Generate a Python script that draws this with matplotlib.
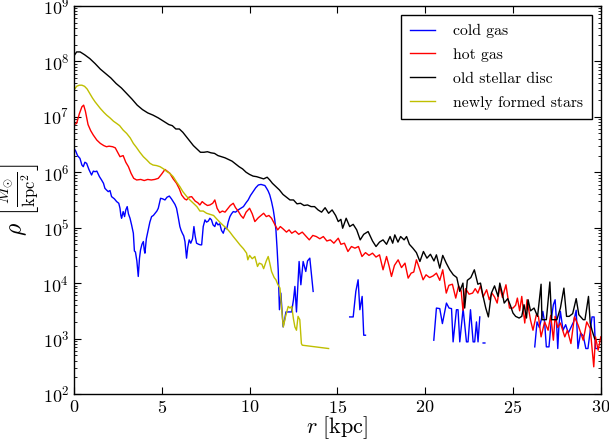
import numpy as np
import matplotlib
matplotlib.use('Agg')
from matplotlib import pyplot as plt

plt.rcParams['font.family'] = 'serif'
plt.rcParams['font.serif'] = ['cmr10']
plt.rcParams['mathtext.fontset'] = 'cm'
plt.rcParams['axes.formatter.use_mathtext'] = True
plt.rcParams['axes.unicode_minus'] = False

nan = np.nan

# surface density profiles, radius in kpc, density as log10(M_sun / kpc^2)
r_cold = [0.0, 0.1, 0.2, 0.34, 0.45, 0.53, 0.62, 0.72, 0.85, 1.0, 1.1, 1.2, 1.3, 1.45, 1.57, 1.68,
          1.76, 1.85, 1.95, 2.05, 2.14, 2.3, 2.43, 2.55, 2.62, 2.67, 2.71, 2.8, 2.88, 2.95, 3.03,
          3.1, 3.19, 3.28, 3.38, 3.44, 3.5, 3.58, 3.66, 3.73, 3.79, 3.87, 3.95, 4.0, 4.04, 4.12,
          4.23, 4.32, 4.42, 4.52, 4.62, 4.72, 4.8, 4.88, 4.93, 5.05, 5.18, 5.3, 5.43, 5.55, 5.65,
          5.75, 5.84, 5.93, 6.03, 6.1, 6.17, 6.25, 6.32, 6.38, 6.41, 6.48, 6.56, 6.65, 6.75, 6.83,
          6.9, 6.98, 7.1, 7.2, 7.27, 7.36, 7.46, 7.55, 7.65, 7.74, 7.83, 7.92, 8.02, 8.1, 8.2, 8.3,
          8.4, 8.5, 8.6, 8.7, 8.78, 8.88, 8.97, 9.07, 9.2, 9.35, 9.5, 9.65, 9.8, 9.92, 10.05, 10.2,
          10.35, 10.5, 10.65, 10.77, 10.87, 10.97, 11.06, 11.15, 11.25, 11.35, 11.43, 11.5, 11.57,
          11.63, 11.7, 11.75, 11.78, 11.85, 11.91, 12.0, 12.07, 12.39, 12.5, 12.58, 12.67, 12.82,
          12.92, 13.05, 13.2, 13.3, 13.43, 13.62, 14.5,
          15.7, 15.9, 16.05, 16.18, 16.28, 16.41, 16.5, 16.6, 18.0,
          20.49, 20.64, 20.83, 20.98, 21.21, 21.36, 21.5, 21.59, 21.78, 21.87, 21.97, 22.16, 22.35,
          22.44, 22.58, 22.73, 22.82, 22.92, 23.01, 23.11, 23.2, 23.3, 23.4, 24.0,
          26.24, 26.37, 26.5, 26.62, 26.7, 26.8, 26.9, 27.05, 27.2, 27.3, 27.4, 27.48, 27.55, 27.62,
          27.7, 27.85, 28.0, 28.15, 28.3, 28.45, 28.6, 28.7, 28.85, 29.0, 29.15, 29.27, 29.5, 29.62,
          29.7, 29.8]
rho_cold = [6.43, 6.38, 6.30, 6.25, 6.13, 6.10, 6.18, 6.16, 6.05, 5.95, 6.02, 6.01, 6.02, 5.92, 5.86, 5.80,
            5.71, 5.68, 5.65, 5.67, 5.56, 5.52, 5.47, 5.44, 5.35, 5.22, 5.17, 5.29, 5.20, 5.32, 5.38,
            5.25, 5.17, 5.05, 4.90, 4.58, 4.56, 4.40, 4.12, 4.45, 4.60, 4.70, 4.75, 4.60, 4.54, 4.80,
            4.96, 5.10, 5.20, 5.22, 5.26, 5.30, 5.35, 5.46, 5.53, 5.52, 5.50, 5.55, 5.57, 5.52, 5.47,
            5.42, 5.35, 5.20, 5.02, 4.95, 4.90, 4.85, 4.75, 4.55, 4.45, 4.65, 4.78, 4.72, 4.80, 5.02,
            4.85, 4.72, 4.70, 4.69, 4.69, 5.02, 5.14, 5.10, 5.12, 5.17, 5.14, 5.05, 5.02, 5.10, 5.05, 5.07,
            4.95, 4.90, 5.00, 4.98, 5.10, 5.20, 5.25, 5.29, 5.28, 5.32, 5.35, 5.38, 5.45, 5.50, 5.58, 5.65,
            5.72, 5.77, 5.78, 5.77, 5.76, 5.71, 5.66, 5.59, 5.47, 5.32, 5.15, 4.96, 4.60,
            4.24, 3.52, 3.70, 3.82, 3.50, 3.21, 3.35, 3.48, 3.48, 3.70, 3.94, 3.48, 4.39,
            3.97, 4.39, 4.21, 4.40, 4.45, 3.85, nan,
            3.39, 3.39, 3.85, 4.06, 3.52, 3.76, 3.06, 3.06, nan,
            2.97, 3.55, 3.54, 3.27, 3.64, 3.55, 3.54, 2.94, 3.52, 3.52, 2.94, 3.54, 2.94,
            2.94, 3.52, 2.94, 2.94, 3.30, 2.94, 3.39, nan, 2.92, 2.92, nan,
            2.85, 3.30, 3.20, 3.35, 3.49, 3.30, 2.85, 2.85, 3.39, 3.61, 3.70, 3.30, 2.82, 3.25,
            3.49, 3.15, 3.25, 3.10, 3.20, 3.30, 3.51, 2.82, 3.10, 3.05, 2.82, 2.82, 3.39, 3.39,
            2.82, 2.82]

r_hot = [0.0, 0.15, 0.3, 0.45, 0.55, 0.65, 0.8, 0.95, 1.1, 1.3, 1.5, 1.7, 1.85, 2.0, 2.2, 2.35, 2.5,
         2.62, 2.8, 2.95, 3.1, 3.25, 3.4, 3.57, 3.8, 4.0, 4.2, 4.4, 4.6, 4.8, 5.0, 5.18, 5.3, 5.46,
         5.65, 5.84, 6.0, 6.13, 6.3, 6.41, 6.55, 6.7, 6.9, 7.05, 7.17, 7.3, 7.45, 7.6, 7.74, 7.9,
         8.02, 8.15, 8.3, 8.45, 8.6, 8.75, 8.9, 9.07, 9.2, 9.35, 9.5, 9.64, 9.8, 10.0, 10.15, 10.3,
         10.5, 10.65, 10.8, 10.95, 11.1, 11.25, 11.4, 11.6, 11.75, 11.9, 12.1, 12.25, 12.4, 12.6,
         12.8, 13.0, 13.2, 13.4, 13.6, 13.8, 14.0, 14.2, 14.4, 14.6, 14.8, 15.05, 15.2, 15.4, 15.6,
         15.8, 16.0, 16.2, 16.4, 16.6, 16.8, 17.0, 17.2, 17.4, 17.6, 17.8, 17.95, 18.08, 18.25,
         18.46, 18.65, 18.85, 19.03, 19.2, 19.35, 19.5, 19.7, 19.88, 20.05, 20.25, 20.45, 20.64,
         20.83, 21.0, 21.2, 21.35, 21.55, 21.74, 21.9, 22.05, 22.15, 22.3, 22.5, 22.7, 22.85, 23.0,
         23.15, 23.3, 23.5, 23.65, 23.8, 23.95, 24.1, 24.25, 24.4, 24.6, 24.8, 25.0, 25.15, 25.25,
         25.38, 25.5, 25.67, 25.8, 26.0, 26.14, 26.33, 26.45, 26.6, 26.8, 27.0, 27.15, 27.3, 27.4,
         27.55, 27.7, 27.95, 28.1, 28.3, 28.5, 28.7, 29.0, 29.2, 29.4, 29.6, 29.7, 29.85, 30.0]
rho_hot = [6.86, 6.88, 7.05, 7.18, 7.21, 7.10, 6.86, 6.75, 6.67, 6.58, 6.52, 6.48, 6.46, 6.47, 6.46, 6.44, 6.35,
           6.28, 6.30, 6.18, 6.10, 5.98, 5.89, 5.86, 5.87, 5.85, 5.87, 5.86, 5.87, 5.89, 5.97, 6.05, 6.02, 5.98,
           5.88, 5.80, 5.70, 5.59, 5.52, 5.50, 5.55, 5.56, 5.48, 5.45, 5.41, 5.47, 5.43, 5.40, 5.41, 5.44,
           5.50, 5.35, 5.27, 5.30, 5.28, 5.34, 5.40, 5.44, 5.36, 5.30, 5.22, 5.17, 5.28, 5.35, 5.25, 5.11,
           5.18, 5.22, 5.26, 5.20, 5.22, 5.17, 5.08, 4.96, 5.02, 4.98, 4.92, 4.96, 4.90, 4.94,
           4.88, 4.92, 4.85, 4.78, 4.86, 4.84, 4.80, 4.84, 4.76, 4.78, 4.72, 4.81, 4.70, 4.72, 4.57,
           4.66, 4.63, 4.66, 4.48, 4.55, 4.50, 4.54, 4.47, 4.51, 4.24, 4.48, 4.30, 4.12, 4.32,
           4.42, 4.28, 4.36, 4.09, 4.18, 4.20, 4.42, 4.24, 4.06, 4.15, 4.10, 4.13, 4.18,
           4.05, 4.24, 3.82, 3.96, 3.98, 3.73, 3.95, 3.86, 3.51, 3.90, 3.80, 3.82, 3.90, 3.82,
           3.95, 3.75, 3.88, 3.70, 3.82, 3.75, 3.64, 3.94, 3.74, 3.97, 3.55, 3.55, 3.60, 3.73,
           3.50, 3.76, 3.28, 3.70, 3.33, 3.15, 3.43, 3.40, 3.03, 3.30, 3.15, 3.42, 2.97, 3.40,
           3.20, 3.28, 3.03, 3.15, 2.91, 3.39, 3.25, 2.97, 3.30, 3.18, 2.49, 3.03, 2.79, 3.03]

r_old = [0.0, 0.15, 0.35, 0.6, 0.9, 1.2, 1.5, 1.8, 2.1, 2.4, 2.7, 3.0, 3.3, 3.6, 3.9, 4.2, 4.5, 4.8,
         5.1, 5.4, 5.6, 5.8, 6.0, 6.2, 6.4, 6.6, 6.8, 7.0, 7.2, 7.4, 7.6, 7.8, 8.0, 8.2, 8.4, 8.6,
         8.8, 9.0, 9.2, 9.4, 9.6, 9.8, 10.0, 10.2, 10.4, 10.6, 10.8, 11.0, 11.15, 11.3, 11.5, 11.7,
         11.9, 12.1, 12.3, 12.5, 12.7, 12.9, 13.1, 13.3, 13.5, 13.7, 13.9, 14.1, 14.3, 14.5, 14.7,
         14.9, 15.05, 15.2, 15.3, 15.5, 15.7, 15.9, 16.1, 16.3, 16.5, 16.75, 17.0, 17.2, 17.4, 17.6,
         17.8, 18.0, 18.15, 18.27, 18.45, 18.6, 18.8, 18.94, 19.1, 19.3, 19.5, 19.7, 19.9, 20.1,
         20.3, 20.5, 20.64, 20.83, 21.0, 21.2, 21.4, 21.6, 21.8, 21.97, 22.15, 22.25, 22.4, 22.6,
         22.8, 23.0, 23.15, 23.3, 23.45, 23.6, 23.77, 23.95, 24.15, 24.25, 24.4, 24.5, 24.7, 24.85,
         25.0, 25.15, 25.35, 25.5, 25.63, 25.77, 25.86, 26.0, 26.2, 26.4, 26.6, 26.65, 26.9, 27.1,
         27.2, 27.5, 27.7, 27.9, 28.05, 28.2, 28.4, 28.6, 28.75, 29.0, 29.1, 29.3, 29.4, 29.5, 29.65]
rho_old = [8.10, 8.17, 8.17, 8.12, 8.05, 7.96, 7.86, 7.78, 7.70, 7.60, 7.52, 7.42, 7.32, 7.21, 7.13, 7.07, 7.03, 6.98,
           6.92, 6.86, 6.84, 6.78, 6.78, 6.72, 6.64, 6.56, 6.48, 6.42, 6.36, 6.36, 6.37, 6.35, 6.34, 6.30, 6.28, 6.26,
           6.23, 6.20, 6.15, 6.10, 6.06, 6.00, 5.96, 5.93, 5.92, 5.90, 5.88, 5.91, 5.86, 5.80, 5.74, 5.68,
           5.60, 5.55, 5.50, 5.50, 5.43, 5.44, 5.40, 5.41, 5.38, 5.38, 5.32, 5.28, 5.36, 5.26, 5.32,
           5.22, 5.11, 5.15, 4.99, 5.17, 5.02, 5.06, 4.96, 4.78, 4.88, 4.93, 4.76, 4.66, 4.74, 4.78,
           4.70, 4.84, 4.72, 4.87, 4.74, 4.84, 4.78, 4.84, 4.70, 4.63, 4.55, 4.39, 4.57, 4.45,
           4.52, 4.40, 4.51, 4.27, 4.50, 4.36, 4.24, 4.15, 4.10, 3.85, 4.00, 3.55, 4.05, 4.10,
           4.24, 3.98, 4.00, 3.76, 3.55, 3.39, 3.82, 3.95, 3.76, 4.00, 3.80, 3.64, 3.72, 3.60,
           3.46, 3.40, 3.37, 3.40, 3.61, 3.37, 3.70, 3.50, 3.55, 3.40, 3.98, 3.34, 3.34, 4.02,
           3.34, 3.34, 3.55, 3.91, 3.40, 3.40, 3.45, 3.72, 3.43, 3.34, 3.34, 3.76, 3.28, 3.15, 3.00]

r_new = [0.0, 0.15, 0.3, 0.45, 0.6, 0.75, 0.9, 1.05, 1.2, 1.35, 1.5, 1.7, 1.86, 2.05, 2.25, 2.43, 2.6,
         2.8, 3.0, 3.2, 3.38, 3.55, 3.75, 3.95, 4.15, 4.33, 4.5, 4.7, 4.9, 5.1, 5.3, 5.46, 5.65, 5.85,
         6.03, 6.2, 6.4, 6.6, 6.8, 7.0, 7.17, 7.36, 7.55, 7.75, 7.95, 8.12, 8.3, 8.5, 8.69, 8.88,
         9.07, 9.25, 9.45, 9.65, 9.83, 9.9, 10.0, 10.15, 10.3, 10.45, 10.55, 10.7, 10.8, 10.95,
         11.06, 11.15, 11.25, 11.4, 11.5, 11.6, 11.73, 11.82, 11.92, 12.05, 12.2, 12.3, 12.4, 12.5,
         12.58, 12.67, 12.76, 12.86, 12.95, 13.0, 14.5]
rho_new = [7.48, 7.55, 7.57, 7.57, 7.55, 7.50, 7.42, 7.34, 7.27, 7.21, 7.15, 7.08, 7.03, 6.98, 6.92, 6.88, 6.84,
           6.76, 6.70, 6.62, 6.52, 6.45, 6.36, 6.28, 6.22, 6.16, 6.13, 6.12, 6.10, 6.06, 6.01, 5.98, 5.92, 5.82,
           5.74, 5.65, 5.57, 5.50, 5.44, 5.38, 5.30, 5.30, 5.26, 5.24, 5.22, 5.16, 5.10, 5.04, 4.99, 4.92,
           4.84, 4.77, 4.69, 4.62, 4.54, 4.42, 4.50, 4.44, 4.48, 4.30, 4.36, 4.34, 4.26, 4.40,
           4.48, 4.36, 4.21, 4.10, 4.06, 3.98, 3.91, 3.55, 3.21, 3.40, 3.58, 3.55, 3.58, 3.35,
           3.21, 3.15, 3.40, 3.34, 2.91, 2.88, 2.82]

labels = ['cold gas', 'hot gas', 'old stellar disc', 'newly formed stars']
profiles = [(r_cold, rho_cold, 'b'), (r_hot, rho_hot, 'r'),
            (r_old, rho_old, 'k'), (r_new, rho_new, 'y')]

fig = plt.figure(figsize=(6.09, 4.41), dpi=100)
ax = fig.add_axes([0.1215, 0.1066, 0.865, 0.88])

for (r, logrho, c), label in zip(profiles, labels):
    ax.plot(r, 10 ** np.asarray(logrho, dtype=float), color=c, lw=1.0, label=label)

ax.set_yscale('log')
ax.set_xlim(0, 30)
ax.set_ylim(1e2, 1e9)
ax.set_xticks([0, 5, 10, 15, 20, 25, 30])

# ticks inside on all four sides
ax.tick_params(which='both', direction='in', top=True, right=True, labelsize=13)
ax.tick_params(which='major', length=5, width=0.8)
ax.tick_params(which='minor', length=2.5, width=0.6)
for s in ax.spines.values():
    s.set_linewidth(1.0)

ax.set_xlabel(r'$r\ [\mathrm{kpc}]$', fontsize=16)
ax.xaxis.set_label_coords(0.5, -0.052)
ax.set_ylabel(r'$\rho\ \left[\frac{M_{\odot}}{\mathrm{kpc}^2}\right]$', fontsize=17)
ax.yaxis.set_label_coords(-0.061, 0.5)

leg = ax.legend(loc='upper right', fontsize=11.3, fancybox=False, framealpha=1,
                edgecolor='k', handlelength=1.6, handletextpad=1.1, labelspacing=0.62,
                borderpad=0.6, borderaxespad=0.55)
leg.get_frame().set_linewidth(1.0)

fig.savefig('out.png', dpi=100)
